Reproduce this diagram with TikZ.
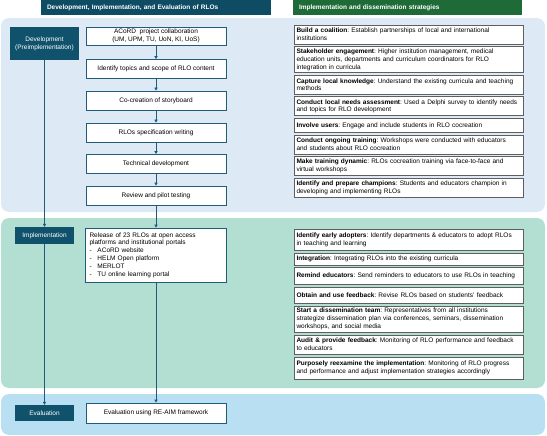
\documentclass[tikz,border=0pt]{standalone}
\usepackage{fontspec}
\setmainfont{Liberation Sans}
\usetikzlibrary{arrows.meta}
\frenchspacing
\definecolor{hdteal}{RGB}{14,76,100}
\definecolor{hdgreen}{RGB}{30,107,55}
\definecolor{devband}{RGB}{221,234,246}
\definecolor{impband}{RGB}{179,223,211}
\definecolor{evaband}{RGB}{185,224,242}
\definecolor{lbl}{RGB}{16,82,108}
\definecolor{flow}{RGB}{30,92,122}
\definecolor{rborder}{RGB}{95,95,95}
\tikzset{
  txt/.style={font=\fontsize{6.5}{7.8}\selectfont},
  hdr/.style={txt, font=\fontsize{6.5}{7.5}\selectfont\bfseries, text=white, minimum height=15pt, inner xsep=6pt, inner ysep=0pt, align=left},
  stage/.style={txt, fill=lbl, text=white, align=center, inner sep=1pt},
  mbox/.style={txt, draw=flow, fill=white, line width=0.7pt, minimum width=140pt, align=center, inner ysep=1pt},
  rbox/.style={txt, draw=rborder, fill=white, line width=0.6pt, text width=224pt, inner xsep=2.5pt, inner ysep=0pt, align=left},
  flowarr/.style={draw=flow, line width=0.7pt, -{Triangle[length=3pt,width=3.2pt]}},
}
\begin{document}
\begin{tikzpicture}[x=1pt,y=-1pt]
\useasboundingbox (0,0) rectangle (547,436);
% bands
\fill[devband, rounded corners=8pt] (1,18) rectangle (545,212);
\fill[impband, rounded corners=8pt] (1,218) rectangle (545,388);
\fill[evaband, rounded corners=8pt] (1,394) rectangle (545,435);
% headers
\node[hdr, fill=hdteal, text width=218pt] (h1) at (156,7.5) {Development, Implementation, and Evaluation of RLOs};
\node[hdr, fill=hdgreen, text width=217pt] (h2) at (407.5,7.5) {Implementation and dissemination strategies};
% stage labels
\node[stage, minimum width=69pt, minimum height=33pt] (sdev) at (44.5,43.5) {Development\\(Preimplementation)};
\node[stage, minimum width=59pt, minimum height=17pt] (simp) at (44.5,235.5) {Implementation};
\node[stage, minimum width=59pt, minimum height=16pt] (seva) at (44.5,413) {Evaluation};
\draw[flowarr] (sdev.south) -- (simp.north);
\draw[flowarr] (simp.south) -- (seva.north);
% middle flow
\node[mbox, minimum height=18pt] (m1) at (156,36) {ACoRD\ \ project collaboration\\(UM, UPM, TU, UoN, KI, UoS)};
\node[mbox, minimum height=19pt] (m2) at (156,69) {Identify topics and scope of RLO content};
\node[mbox, minimum height=19pt] (m3) at (156,100.5) {Co-creation of storyboard};
\node[mbox, minimum height=19pt] (m4) at (156,132.5) {RLOs specification writing};
\node[mbox, minimum height=19pt] (m5) at (156,164) {Technical development};
\node[mbox, minimum height=19pt] (m6) at (156,195.5) {Review and pilot testing};
\node[mbox, minimum height=54pt, text width=133pt, inner xsep=4pt, align=left] (m7) at (156,255) {Release of 23 RLOs at open access\\platforms and institutional portals\\\makebox[8pt][l]{-}ACoRD website\\\makebox[8pt][l]{-}HELM Open platform\\\makebox[8pt][l]{-}MERLOT\\\makebox[8pt][l]{-}TU online learning portal};
\node[mbox, minimum height=20pt] (m8) at (156,413) {Evaluation using RE-AIM framework};
\draw[flowarr] (m1.south) -- (m2.north);
\draw[flowarr] (m2.south) -- (m3.north);
\draw[flowarr] (m3.south) -- (m4.north);
\draw[flowarr] (m4.south) -- (m5.north);
\draw[flowarr] (m5.south) -- (m6.north);
\draw[flowarr] (m6.south) -- (m7.north);
\draw[flowarr] (m7.south) -- (m8.north);
% right column: development
\node[rbox, minimum height=19pt] (r1) at (408.5,34.5) {\textbf{Build a coalition}: Establish partnerships of local and international\\institutions};
\node[rbox, minimum height=26pt] (r2) at (408.5,59.6) {\textbf{Stakeholder engagement}: Higher institution management, medical\\education units, departments and curriculum coordinators for RLO\\integration in curricula};
\node[rbox, minimum height=19pt] (r3) at (408.5,84.7) {\textbf{Capture local knowledge}: Understand the existing curricula and teaching\\methods};
\node[rbox, minimum height=19pt] (r4) at (408.5,106.3) {\textbf{Conduct local needs assessment}: Used a Delphi survey to identify needs\\and topics for RLO development};
\node[rbox, minimum height=14pt] (r5) at (408.5,125.4) {\textbf{Involve users}: Engage and include students in RLO cocreation};
\node[rbox, minimum height=19pt] (r6) at (408.5,144.5) {\textbf{Conduct ongoing training}: Workshops were conducted with educators\\and students about RLO cocreation};
\node[rbox, minimum height=19pt] (r7) at (408.5,166.1) {\textbf{Make training dynamic}: RLOs cocreation training via face-to-face and\\virtual workshops};
\node[rbox, minimum height=19pt] (r8) at (408.5,187.7) {\textbf{Identify and prepare champions}: Students and educators champion in\\developing and implementing RLOs};
% right column: implementation
\node[rbox, minimum height=21pt] (i1) at (408.5,239.5) {\textbf{Identify early adopters}: Identify departments \& educators to adopt RLOs\\in teaching and learning};
\node[rbox, minimum height=12pt] (i2) at (408.5,259) {\textbf{Integration}: Integrating RLOs into the existing curricula};
\node[rbox, minimum height=17pt] (i3) at (408.5,275.5) {\textbf{Remind educators}: Send reminders to educators to use RLOs in teaching};
\node[rbox, minimum height=16pt] (i4) at (408.5,295) {\textbf{Obtain and use feedback}: Revise RLOs based on students' feedback};
\node[rbox, minimum height=26pt] (i5) at (408.5,319) {\textbf{Start a dissemination team}: Representatives from all institutions\\strategize dissemination plan via conferences, seminars, dissemination\\workshops, and social media};
\node[rbox, minimum height=19pt] (i6) at (408.5,344.5) {\textbf{Audit \& provide feedback}: Monitoring of RLO performance and feedback\\to educators};
\node[rbox, minimum height=22pt] (i7) at (408.5,368) {\textbf{Purposely reexamine the implementation}: Monitoring of RLO progress\\and performance and adjust implementation strategies accordingly};
\end{tikzpicture}
\end{document}
